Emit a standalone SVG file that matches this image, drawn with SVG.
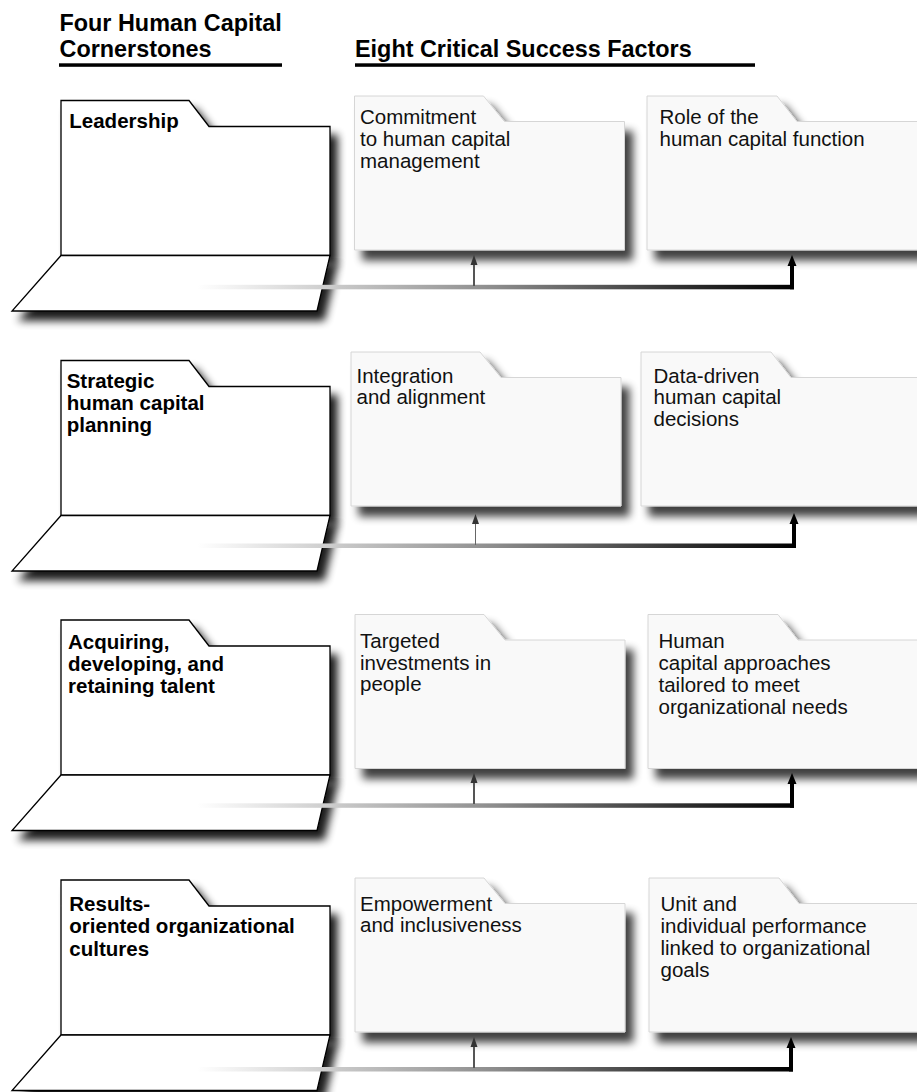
<svg xmlns="http://www.w3.org/2000/svg" width="917" height="1092" viewBox="0 0 917 1092">
<style>
.hdr{font-family:"Liberation Sans",Arial,sans-serif;font-weight:bold;font-size:23.4px;fill:#000}
.cs{font-family:"Liberation Sans",Arial,sans-serif;font-weight:bold;font-size:20.5px;fill:#000}
.cf{font-family:"Liberation Sans",Arial,sans-serif;font-size:20.5px;fill:#111}
.lf{fill:#fff;stroke:#000;stroke-width:1.3;stroke-linejoin:miter}
.ff{fill:#f9f9f9;stroke:#d6d6d6;stroke-width:1}
.ul{fill:#000}
</style>
<defs>
<filter id="shL" x="-10%" y="-10%" width="130%" height="150%">
<feGaussianBlur in="SourceAlpha" stdDeviation="4"/>
<feOffset dx="7" dy="9"/>
<feComponentTransfer><feFuncA type="linear" slope="0.9"/></feComponentTransfer>
<feMerge><feMergeNode/><feMergeNode in="SourceGraphic"/></feMerge>
</filter>
<filter id="shF" x="-10%" y="-10%" width="130%" height="140%">
<feGaussianBlur in="SourceAlpha" stdDeviation="4.5"/>
<feOffset dx="8" dy="10"/>
<feComponentTransfer><feFuncA type="linear" slope="0.75"/></feComponentTransfer>
<feMerge><feMergeNode/><feMergeNode in="SourceGraphic"/></feMerge>
</filter>
<linearGradient id="lg" x1="0" y1="0" x2="1" y2="0">
<stop offset="0" stop-color="#ffffff"/>
<stop offset="0.12" stop-color="#e4e4e4"/>
<stop offset="0.5" stop-color="#8c8c8c"/>
<stop offset="0.8" stop-color="#333"/>
<stop offset="1" stop-color="#000"/>
</linearGradient>
<path id="backP" d="M61,0 H189 L209,26 H330 V155 H61 Z"/>
<path id="frontP" d="M61,155 H330 L317,210.5 H12 Z"/>
<path id="facL" d="M0,0 H129 L150,25.5 H270 V154 H0 Z"/>
<path id="facR" d="M0,0 H130 L150,25.5 H300 V154 H0 Z"/>
</defs>

<g id="headers">
<text class="hdr" x="59.5" y="31">Four Human Capital</text>
<text class="hdr" x="59.5" y="57.3">Cornerstones</text>
<rect class="ul" x="59" y="63.3" width="223" height="3.5"/>
<text class="hdr" x="355" y="57.3">Eight Critical Success Factors</text>
<rect class="ul" x="355" y="63.3" width="400" height="3.5"/>
</g>

<!-- Cornerstones -->
<g id="cornerstone-1" transform="translate(0,100.5)">
<use href="#backP" class="lf" filter="url(#shL)"/>
<use href="#frontP" class="lf" filter="url(#shL)"/>
<text class="cs" x="69.3" y="27.8">Leadership</text>
</g>
<g id="cornerstone-2" transform="translate(0,360.5)">
<use href="#backP" class="lf" filter="url(#shL)"/>
<use href="#frontP" class="lf" filter="url(#shL)"/>
<text class="cs" x="66.7" y="27"><tspan x="66.7">Strategic</tspan><tspan x="66.7" dy="22.3">human capital</tspan><tspan x="66.7" dy="22.3">planning</tspan></text>
</g>
<g id="cornerstone-3" transform="translate(0,620)">
<use href="#backP" class="lf" filter="url(#shL)"/>
<use href="#frontP" class="lf" filter="url(#shL)"/>
<text class="cs" x="68" y="28.5"><tspan x="68">Acquiring,</tspan><tspan x="68" dy="22.3">developing, and</tspan><tspan x="68" dy="22.3">retaining talent</tspan></text>
</g>
<g id="cornerstone-4" transform="translate(0,880)">
<use href="#backP" class="lf" filter="url(#shL)"/>
<use href="#frontP" class="lf" filter="url(#shL)"/>
<text class="cs" x="69.3" y="30.7"><tspan x="69.3">Results-</tspan><tspan x="69.3" dy="22.5">oriented organizational</tspan><tspan x="69.3" dy="22.5">cultures</tspan></text>
</g>

<!-- Success factors -->
<g id="factor-1a" transform="translate(354.5,96)">
<use href="#facL" class="ff" filter="url(#shF)"/>
<text class="cf" x="5.5" y="28.3"><tspan x="5.5">Commitment</tspan><tspan x="5.5" dy="21.7">to human capital</tspan><tspan x="5.5" dy="21.7">management</tspan></text>
</g>
<g id="factor-1b" transform="translate(647,96)">
<use href="#facR" class="ff" filter="url(#shF)"/>
<text class="cf" x="12.5" y="28.3"><tspan x="12.5">Role of the</tspan><tspan x="12.5" dy="21.7">human capital function</tspan></text>
</g>
<g id="factor-2a" transform="translate(351,352)">
<use href="#facL" class="ff" filter="url(#shF)"/>
<text class="cf" x="5.5" y="30.5"><tspan x="5.5">Integration</tspan><tspan x="5.5" dy="21.7">and alignment</tspan></text>
</g>
<g id="factor-2b" transform="translate(641,352)">
<use href="#facR" class="ff" filter="url(#shF)"/>
<text class="cf" x="12.5" y="30.5"><tspan x="12.5">Data-driven</tspan><tspan x="12.5" dy="21.7">human capital</tspan><tspan x="12.5" dy="21.7">decisions</tspan></text>
</g>
<g id="factor-3a" transform="translate(355,614.5)">
<use href="#facL" class="ff" filter="url(#shF)"/>
<text class="cf" x="5" y="33.5"><tspan x="5">Targeted</tspan><tspan x="5" dy="21.7">investments in</tspan><tspan x="5" dy="21.7">people</tspan></text>
</g>
<g id="factor-3b" transform="translate(648,614.5)">
<use href="#facR" class="ff" filter="url(#shF)"/>
<text class="cf" x="10.5" y="33"><tspan x="10.5">Human</tspan><tspan x="10.5" dy="22">capital approaches</tspan><tspan x="10.5" dy="22">tailored to meet</tspan><tspan x="10.5" dy="22">organizational needs</tspan></text>
</g>
<g id="factor-4a" transform="translate(355,878)">
<use href="#facL" class="ff" filter="url(#shF)"/>
<text class="cf" x="5" y="32.7"><tspan x="5">Empowerment</tspan><tspan x="5" dy="21.7">and inclusiveness</tspan></text>
</g>
<g id="factor-4b" transform="translate(649,878)">
<use href="#facR" class="ff" filter="url(#shF)"/>
<text class="cf" x="11.5" y="32.7"><tspan x="11.5">Unit and</tspan><tspan x="11.5" dy="22">individual performance</tspan><tspan x="11.5" dy="22">linked to organizational</tspan><tspan x="11.5" dy="22">goals</tspan></text>
</g>

<!-- Connectors -->
<g id="connectors">
<!-- row 1 -->
<rect x="197" y="284.8" width="597" height="4.5" fill="url(#lg)"/>
<rect x="790" y="264" width="4" height="25.3" fill="#000"/>
<polygon points="792,255 787.5,266 796.5,266" fill="#000"/>
<rect x="473" y="264" width="2" height="22" fill="#555"/>
<polygon points="474,255 470.5,265 477.5,265" fill="#333"/>
<!-- row 2 -->
<rect x="197" y="543.5" width="599" height="4.5" fill="url(#lg)"/>
<rect x="792" y="523" width="4" height="25" fill="#000"/>
<polygon points="794,513 789.5,524 798.5,524" fill="#000"/>
<rect x="475" y="523" width="1" height="22" fill="#666"/>
<polygon points="475.5,514 472,524 479,524" fill="#333"/>
<!-- row 3 -->
<rect x="197" y="803.3" width="597" height="4.5" fill="url(#lg)"/>
<rect x="790" y="782" width="4" height="25.8" fill="#000"/>
<polygon points="792,773 787.5,784 796.5,784" fill="#000"/>
<rect x="473" y="782" width="2" height="22" fill="#555"/>
<polygon points="474,773 470.5,783 477.5,783" fill="#333"/>
<!-- row 4 -->
<rect x="197" y="1067" width="596" height="4.5" fill="url(#lg)"/>
<rect x="789" y="1046" width="4" height="25.5" fill="#000"/>
<polygon points="791,1037 786.5,1048 795.5,1048" fill="#000"/>
<rect x="473" y="1046" width="2" height="22" fill="#555"/>
<polygon points="474,1037 470.5,1047 477.5,1047" fill="#333"/>
</g>
</svg>
